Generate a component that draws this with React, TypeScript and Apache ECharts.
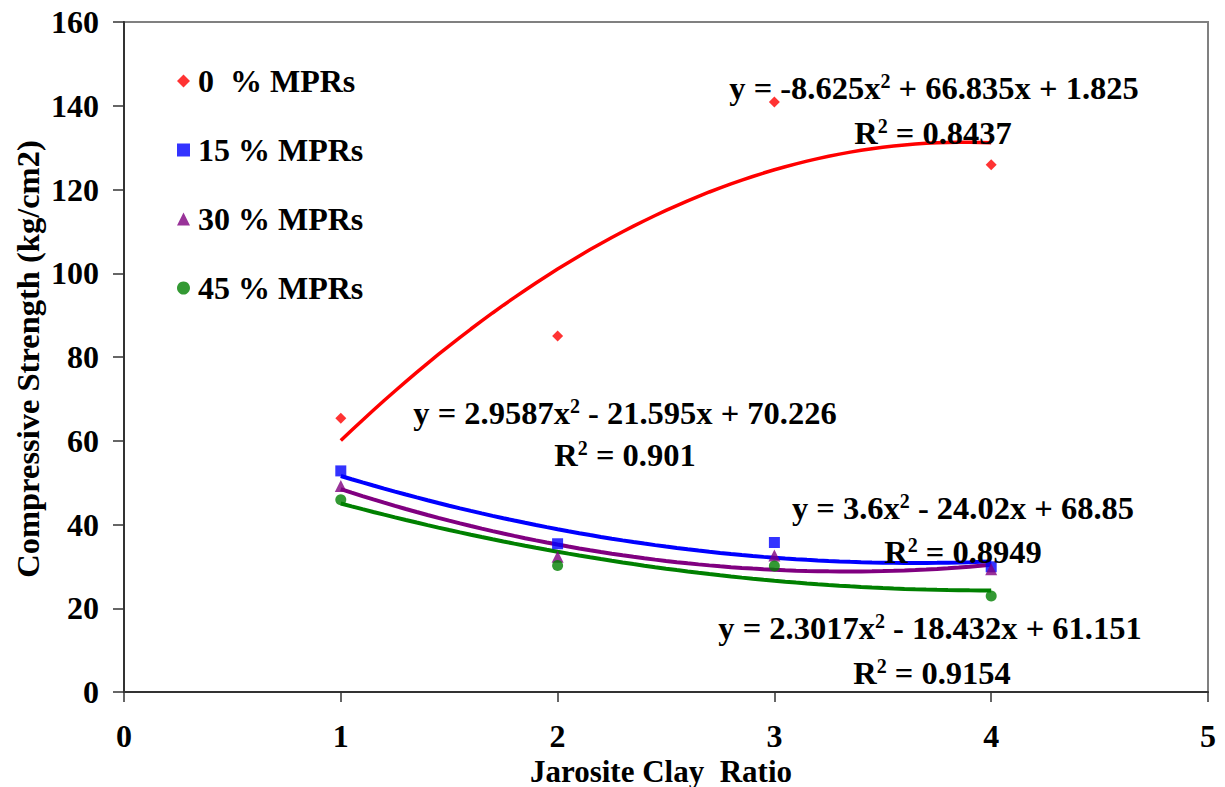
import React, { useEffect, useRef } from "react";
import * as echarts from "echarts";

const xValues = [1, 2, 3, 4];
const seriesNames = ["0  % MPRs", "15 % MPRs", "30 % MPRs", "45 % MPRs"];
const mpr0 = [65.4, 85.0, 140.9, 125.9];
const mpr15 = [52.8, 35.4, 35.7, 29.9];
const mpr30 = [49.2, 32.3, 32.6, 29.3];
const mpr45 = [45.9, 30.2, 30.1, 22.9];
// trendline coefficients [a, b, c] of y = a x^2 + b x + c, as printed on the chart
const trend0 = [-8.625, 66.835, 1.825];
const trend15 = [2.9587, -21.595, 70.226];
const trend30 = [3.6, -24.02, 68.85];
const trend45 = [2.3017, -18.432, 61.151];
const equations = [
  "y = -8.625x{sup|2} + 66.835x + 1.825",
  "y = 2.9587x{sup|2} - 21.595x + 70.226",
  "y = 3.6x{sup|2} - 24.02x + 68.85",
  "y = 2.3017x{sup|2} - 18.432x + 61.151",
];
const rSquared = ["R{sup|2} = 0.8437", "R{sup|2} = 0.901", "R{sup|2} = 0.8949", "R{sup|2} = 0.9154"];
const xTicks = [0, 1, 2, 3, 4, 5];
const yTicks = [0, 20, 40, 60, 80, 100, 120, 140, 160];

const FONT = "'Liberation Serif', 'Times New Roman', serif";
const colors = ["#ff0000", "#0000ff", "#800080", "#008000"];
const symbols = ["diamond", "rect", "triangle", "circle"];
const symSizes = [11, 11, 12, 11];

function trendCurve(coef: number[]) {
  const pts: number[][] = [];
  const x0 = xValues[0];
  const x1 = xValues[xValues.length - 1];
  const n = 60;
  for (let i = 0; i <= n; i++) {
    const x = x0 + ((x1 - x0) * i) / n;
    pts.push([x, coef[0] * x * x + coef[1] * x + coef[2]]);
  }
  return pts;
}

export default function App() {
  const ref = useRef<HTMLDivElement>(null);
  useEffect(() => {
    if (!ref.current) return;
    const chart = echarts.init(ref.current, undefined, { renderer: "svg" });
    const data = [mpr0, mpr15, mpr30, mpr45];
    const trends = [trend0, trend15, trend30, trend45];

    const scatterSeries = data.map((d, i) => ({
      name: seriesNames[i],
      type: "scatter",
      data: d.map((v, j) => [xValues[j], v]),
      symbol: symbols[i],
      symbolSize: symSizes[i],
      itemStyle: { color: colors[i] },
      z: 3,
    }));
    const lineSeries = trends.map((c, i) => ({
      name: "trend" + i,
      type: "line",
      data: trendCurve(c),
      showSymbol: false,
      symbol: "none",
      lineStyle: { color: colors[i], width: i === 0 ? 3.5 : 4 },
      itemStyle: { color: colors[i] },
      z: 2,
    }));

    const eqPos = [
      [934, 88, 933, 133],
      [625, 413, 625, 455],
      [963, 508, 963, 552],
      [930, 628, 932, 673],
    ];
    const richSup = {
      sup: { fontSize: 20, fontWeight: "bold", fontFamily: FONT, verticalAlign: "top", lineHeight: 34, fill: "#000", color: "#000" },
    };
    const textEl = (txt: string, x: number, y: number, size: number, extra: any = {}) => ({
      type: "text",
      x,
      y,
      z: 10,
      style: {
        text: txt,
        fill: "#000",
        font: `bold ${size}px ${FONT}`,
        fontSize: size,
        fontWeight: "bold",
        fontFamily: FONT,
        align: "center",
        verticalAlign: "middle",
        textAlign: "center",
        textVerticalAlign: "middle",
        lineHeight: 34,
        rich: richSup,
        ...extra,
      },
    });
    const graphics: any[] = [];
    eqPos.forEach((p, i) => {
      graphics.push(textEl(equations[i], p[0], p[1], 32.5));
      graphics.push(textEl(rSquared[i], p[2], p[3], 32.5));
    });
    graphics.push(textEl("Jarosite Clay  Ratio", 661, 771, 31, { lineHeight: 30, rich: undefined }));
    graphics.push({ ...textEl("Compressive Strength (kg/cm2)", 28, 359, 32.5), rotation: Math.PI / 2 });

    chart.setOption({
      animation: false,
      backgroundColor: "#fff",
      grid: {
        left: 124,
        right: 17,
        top: 22,
        bottom: 95,
        show: true,
        borderColor: "#808080",
        borderWidth: 2,
        backgroundColor: "#fff",
      },
      legend: {
        data: seriesNames,
        orient: "vertical",
        left: 172,
        top: 60,
        itemGap: 37,
        itemWidth: 13,
        itemHeight: 13,
        textStyle: { fontSize: 32, fontWeight: "bold", fontFamily: FONT, color: "#000", padding: [0, 0, 0, 3] },
      },
      xAxis: {
        type: "value",
        min: xTicks[0],
        max: xTicks[xTicks.length - 1],
        interval: 1,
        axisLine: { show: true, onZero: false, lineStyle: { color: "#333", width: 2 } },
        axisTick: { show: true, length: 10, lineStyle: { color: "#333", width: 1.5 } },
        axisLabel: { margin: 28, fontSize: 32, lineHeight: 32, fontWeight: "bold", fontFamily: FONT, color: "#000" },
        splitLine: { show: false },
      },
      yAxis: {
        type: "value",
        min: yTicks[0],
        max: yTicks[yTicks.length - 1],
        interval: 20,
        axisLine: { show: true, onZero: false, lineStyle: { color: "#333", width: 2 } },
        axisTick: { show: true, length: 11, lineStyle: { color: "#333", width: 1.5 } },
        axisLabel: { margin: 25, fontSize: 32, fontWeight: "bold", fontFamily: FONT, color: "#000" },
        splitLine: { show: false },
      },
      graphic: graphics,
      series: [...lineSeries, ...scatterSeries],
    });
    return () => chart.dispose();
  }, []);
  return (
    <div
      ref={ref}
      style={{ position: "absolute", left: 0, top: 0, width: 1225, height: 787, background: "#fff" }}
    />
  );
}
